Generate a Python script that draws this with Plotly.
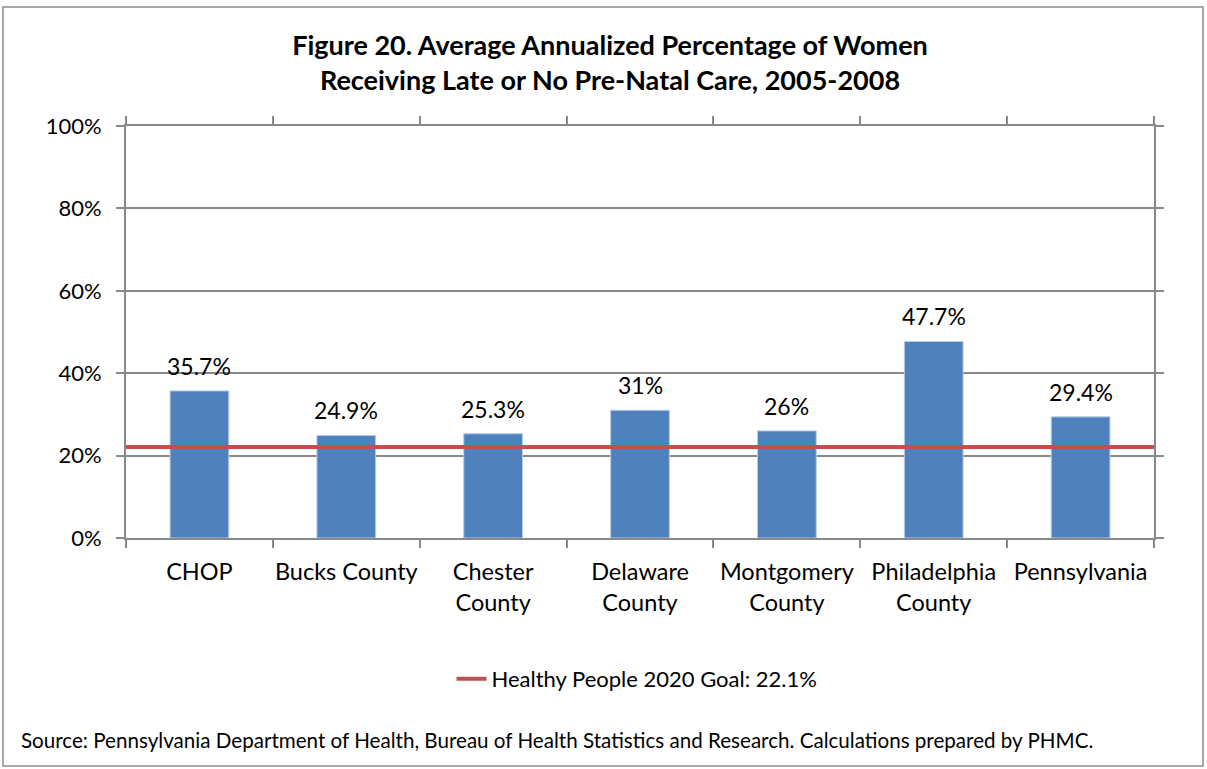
import plotly.graph_objects as go

categories = ["CHOP", "Bucks County", "Chester<br>County", "Delaware<br>County",
              "Montgomery<br>County", "Philadelphia<br>County", "Pennsylvania"]
values = [35.7, 24.9, 25.3, 31, 26, 47.7, 29.4]
goal_value = 22.1
goal_name = "Healthy People 2020 Goal: 22.1%"
y_ticks = [0, 20, 40, 60, 80, 100]
y_tick_labels = [f"{t}%" for t in y_ticks]

FONT = "Lato, Carlito, Calibri, sans-serif"
GRID = "#898989"

W, H = 1207, 769
L, R, T, B = 126, 53, 126, 231
PW, PH = W - L - R, H - T - B


def px_x(p):
    return (p - L) / PW


def px_y(p):
    return (H - B - p) / PH


fig = go.Figure()
fig.add_trace(go.Bar(
    x=categories, y=values, showlegend=False,
    marker=dict(color="#4F81BD", line=dict(color="#B9CDE5", width=1)),
    hoverinfo="x+y",
))
fig.add_trace(go.Scatter(
    x=[0, 1], y=[goal_value, goal_value], xaxis="x2", mode="lines",
    line=dict(color="#C0504D", width=4), name=goal_name,
))

annotations = []
for c, v in zip(categories, values):
    annotations.append(dict(
        x=c, y=v, xref="x", yref="y", text=f"{v:g}%", showarrow=False,
        yanchor="bottom", yshift=9, font=dict(family=FONT, size=23, color="#000"),
    ))
annotations.append(dict(
    x=px_x(19), y=px_y(740), xref="paper", yref="paper", xanchor="left", yanchor="middle",
    text="Source: Pennsylvania Department of Health, Bureau of Health Statistics and Research. Calculations prepared by PHMC.",
    showarrow=False, font=dict(family=FONT, size=20.6, color="#000"),
))

fig.update_layout(
    width=W, height=H,
    margin=dict(l=L, r=R, t=T, b=B, pad=0),
    paper_bgcolor="white", plot_bgcolor="white",
    bargap=0.6,
    font=dict(family=FONT, size=22, color="#000"),
    title=dict(
        text="<b>Figure 20. Average Annualized Percentage of Women<br>Receiving Late or No Pre-Natal Care, 2005-2008</b>",
        x=(610) / W, xanchor="center", y=1 - 55 / H, yanchor="middle",
        font=dict(family=FONT, size=27, color="#000"),
    ),
    xaxis=dict(
        type="category", showline=True, linecolor=GRID, linewidth=2, mirror="ticks",
        ticks="outside", tickson="boundaries", ticklen=8, tickcolor=GRID, tickwidth=2,
        showgrid=False, tickfont=dict(family=FONT, size=23.5, color="#000"),
        tickangle=0, ticklabelstandoff=12,
        range=[-0.5, len(categories) - 0.5], fixedrange=True,
    ),
    xaxis2=dict(overlaying="x", range=[0, 1], visible=False, fixedrange=True),
    yaxis=dict(
        range=[0, 100], tickvals=y_ticks, ticktext=y_tick_labels,
        showline=True, linecolor=GRID, linewidth=2, mirror="ticks",
        ticks="outside", ticklen=8, tickcolor=GRID, tickwidth=2,
        showgrid=True, gridcolor=GRID, gridwidth=2, zeroline=False,
        tickfont=dict(family=FONT, size=22, color="#000"), fixedrange=True,
        ticklabelstandoff=10,
    ),
    legend=dict(
        orientation="h", x=px_x(637), xanchor="center", y=px_y(679), yanchor="middle",
        font=dict(family=FONT, size=22, color="#000"), bgcolor="rgba(0,0,0,0)",
    ),
    annotations=annotations,
    shapes=[dict(
        type="rect", xref="paper", yref="paper",
        x0=px_x(3), x1=px_x(1203), y0=px_y(766), y1=px_y(7),
        line=dict(color="#8a8a8a", width=1.5), layer="below",
    )],
)

fig.write_html("out.html", config={"displayModeBar": False},
               post_script="document.body.style.margin='0px';document.body.style.overflow='hidden';")
